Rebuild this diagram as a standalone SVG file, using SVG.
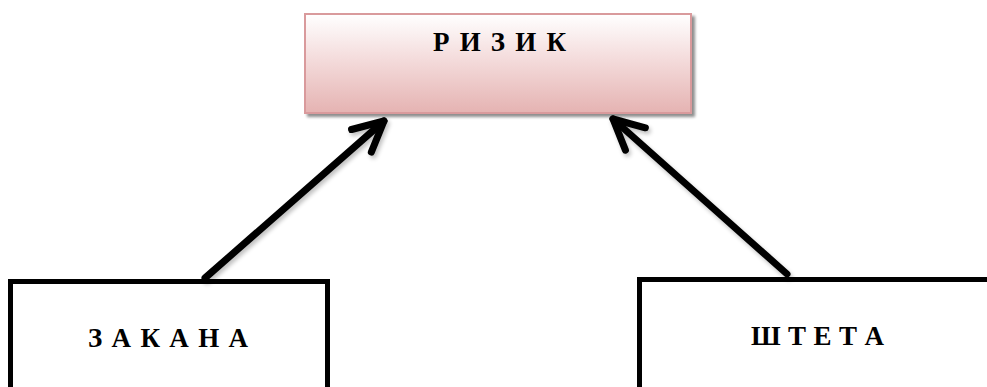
<svg xmlns="http://www.w3.org/2000/svg" width="987" height="387" viewBox="0 0 987 387">
<style>
.lbl{font-family:"Liberation Serif","Times New Roman",serif;font-weight:bold;font-size:27px;fill:#000;text-anchor:middle}
.box{fill:#fff;stroke:#000;stroke-width:5}
.conn{fill:none;stroke:#000;stroke-width:7;stroke-linecap:round;marker-end:url(#chev)}
</style>
<defs>
<linearGradient id="pink" x1="0" y1="0" x2="0" y2="1">
<stop offset="0" stop-color="#ffffff"/>
<stop offset="0.45" stop-color="#f4dcdc"/>
<stop offset="1" stop-color="#e5b3b2"/>
</linearGradient>
<filter id="sh" x="-10%" y="-20%" width="120%" height="150%">
<feGaussianBlur in="SourceAlpha" stdDeviation="1.5"/>
<feOffset dx="3" dy="3" result="b"/>
<feComponentTransfer><feFuncA type="linear" slope="0.45"/></feComponentTransfer>
<feMerge><feMergeNode/><feMergeNode in="SourceGraphic"/></feMerge>
</filter>
<filter id="ash" x="-20%" y="-20%" width="140%" height="140%">
<feGaussianBlur in="SourceAlpha" stdDeviation="2"/>
<feOffset dx="2" dy="3" result="b"/>
<feComponentTransfer><feFuncA type="linear" slope="0.25"/></feComponentTransfer>
<feMerge><feMergeNode/><feMergeNode in="SourceGraphic"/></feMerge>
</filter>
<marker id="chev" markerUnits="userSpaceOnUse" viewBox="-40 -25 50 50" refX="0" refY="0" markerWidth="50" markerHeight="50" orient="auto" overflow="visible">
<path d="M-30,-15 L0,0 L-30,15" fill="none" stroke="#000" stroke-width="7" stroke-linecap="round" stroke-linejoin="round"/>
</marker>
</defs>
<g id="node-rizik">
<rect x="305" y="14" width="386" height="99" fill="url(#pink)" stroke="#d99a9c" stroke-width="2" filter="url(#sh)"/>
<text class="lbl" x="499.5" y="51" textLength="133" lengthAdjust="spacing">Р И З И К</text>
</g>
<g id="node-zakana">
<rect class="box" x="10.5" y="281.5" width="317" height="108"/>
<text class="lbl" x="168" y="347" textLength="160" lengthAdjust="spacing">З А К А Н А</text>
</g>
<g id="node-shteta">
<rect class="box" x="639.5" y="279.5" width="360" height="110"/>
<text class="lbl" x="817.5" y="345" textLength="133" lengthAdjust="spacing">Ш Т Е Т А</text>
</g>
<g id="connectors" filter="url(#ash)">
<path class="conn" d="M205,278 L384,121"/>
<path class="conn" d="M787,274 L613,119"/>
</g>
</svg>
